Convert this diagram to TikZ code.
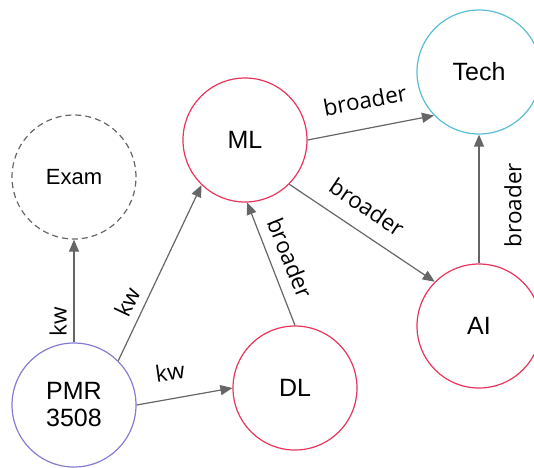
\documentclass[tikz,border=0pt]{standalone}
\usepackage{fontspec}
\setmainfont{Liberation Sans}
\newfontfamily\edgefont{Open Sans}
\usetikzlibrary{arrows.meta}
\definecolor{conceptred}{RGB}{232,52,92}
\definecolor{techcyan}{RGB}{88,190,212}
\definecolor{coursepurple}{RGB}{132,124,212}
\definecolor{linkgray}{RGB}{102,102,102}
\tikzset{
  concept/.style={circle, draw=#1, line width=1.2pt, minimum size=124pt, inner sep=0pt,
    align=center, font=\fontsize{25}{28}\selectfont},
  examnode/.style={circle, draw=linkgray, dashed, dash pattern=on 6pt off 4pt, line width=1.2pt,
    minimum size=124pt, inner sep=0pt, font=\fontsize{22}{26}\selectfont},
  link/.style={draw=linkgray, line width=1.2pt, -{Triangle[length=12pt,width=10pt]}},
  lbl/.style={font=\edgefont\fontsize{22.5}{26}\selectfont, inner sep=0pt, text=black}
}
\begin{document}
\begin{tikzpicture}[x=1pt,y=-1pt]
\useasboundingbox (0,0) rectangle (534,467);
% topic nodes
\node[concept=techcyan] (tech) at (479,72) {Tech};
\node[concept=conceptred] (ml) at (245,140) {ML};
\node[examnode] (exam) at (74,177) {Exam};
\node[concept=conceptred] (ai) at (479,326) {AI};
\node[concept=conceptred] (dl) at (295,388) {DL};
\node[concept=coursepurple] (pmr) at (74,405) {PMR\\[-1pt]3508};
% relations
\draw[link] (ml.east) -- (tech.224);
\draw[link] (ml.315) -- (ai.135);
\draw[link] (ai.north) -- (tech.south);
\draw[link] (dl.north) -- (ml.272);
\draw[link] (pmr.45) -- (ml.226);
\draw[link] (pmr.east) -- (dl.west);
\draw[link] (pmr.north) -- (exam.south);
% relation labels
\node[lbl, rotate=90] (l1) at (58,322) {kw};
\node[lbl, rotate=64.7] (l2) at (127,302) {kw};
\node[lbl, rotate=8] (l3) at (170,372) {kw};
\node[lbl, rotate=10.6] (l4) at (365,100) {broader};
\node[lbl, rotate=-34] (l5) at (367,207) {broader};
\node[lbl, rotate=-68] (l6) at (290,258) {broader};
\node[lbl, rotate=90] (l7) at (513,205) {broader};
\end{tikzpicture}
\end{document}
